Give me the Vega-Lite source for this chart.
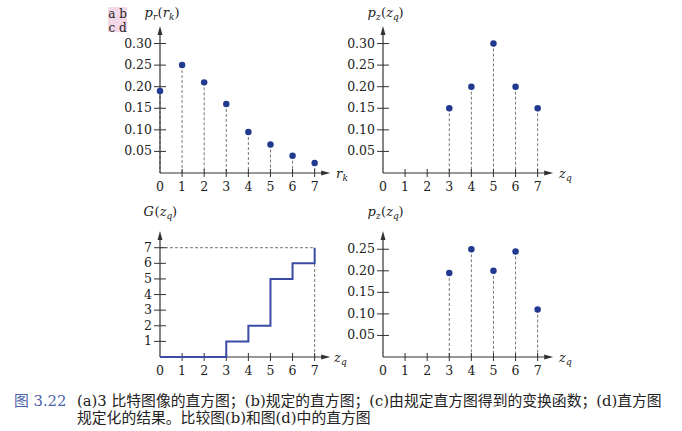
{
"$schema":"https://vega.github.io/schema/vega-lite/v6.json",
"background":"white",
"padding":{"left":14,"top":6,"right":0,"bottom":0},
"bounds":"flush",
"columns":2,
"spacing":{"row":31,"column":33},
"datasets":{
 "xt":[{"v":0},{"v":1},{"v":2},{"v":3},{"v":4},{"v":5},{"v":6},{"v":7}],
 "ya":[{"v":0.05},{"v":0.1},{"v":0.15},{"v":0.2},{"v":0.25},{"v":0.3}],
 "yc":[{"v":1},{"v":2},{"v":3},{"v":4},{"v":5},{"v":6},{"v":7}],
 "yd":[{"v":0.05},{"v":0.1},{"v":0.15},{"v":0.2},{"v":0.25}]
},
"config":{"view":{"stroke":null},
 "axis":{"disable":true},
 "text":{"font":"DejaVu Serif","fontSize":13,"fontStyle":"italic","align":"left","baseline":"middle","color":"#222"}},
"concat":[
{"width":190,"height":164,
 "data":{"values":[{"k":0,"p":0.19},{"k":1,"p":0.25},{"k":2,"p":0.21},{"k":3,"p":0.16},{"k":4,"p":0.095},{"k":5,"p":0.066},{"k":6,"p":0.04},{"k":7,"p":0.023}]},
 "layer":[
  {"mark":{"type":"rule","color":"#777","strokeDash":[3,2],"strokeWidth":1},
   "encoding":{"x":{"field":"k","type":"quantitative","scale":{"domain":[0,8.6],"nice":false},"axis":null},
     "y":{"field":"p","type":"quantitative","scale":{"domain":[0,0.38],"nice":false},"axis":null},
     "y2":{"datum":0}}},
  {"data":{"name":"xt"},"transform":[{"filter":"datum.v > 0"}],"mark":{"type":"point","shape":"M0,-1L0,1","filled":false,"size":64,"color":"#333","strokeWidth":1,"opacity":1},"encoding":{"x":{"field":"v","type":"quantitative"},"y":{"datum":0}}},
  {"data":{"name":"xt"},"mark":{"type":"text","dy":14,"align":"center","fontStyle":"normal","fontSize":12.5},"encoding":{"x":{"field":"v","type":"quantitative"},"y":{"datum":0},"text":{"field":"v","type":"quantitative","format":"d"}}},
  {"data":{"name":"ya"},"mark":{"type":"point","shape":"M-1,0L1,0","filled":false,"size":144,"color":"#333","strokeWidth":1,"opacity":1},"encoding":{"x":{"datum":0},"y":{"field":"v","type":"quantitative"}}},
  {"data":{"name":"ya"},"mark":{"type":"text","dx":-8,"align":"right","fontStyle":"normal","fontSize":12.5},"encoding":{"x":{"datum":0},"y":{"field":"v","type":"quantitative"},"text":{"field":"v","type":"quantitative","format":".2f"}}},
  {"data":{"values":[{}]},"mark":{"type":"rule","color":"#333","strokeWidth":1.2},"encoding":{"x":{"datum":0},"x2":{"datum":7.5},"y":{"datum":0}}},
  {"data":{"values":[{}]},"mark":{"type":"rule","color":"#333","strokeWidth":1.2},"encoding":{"x":{"datum":0},"y":{"datum":0},"y2":{"datum":0.33}}},
  {"data":{"values":[{}]},"mark":{"type":"point","shape":"M1,0L-1,-0.55L-1,0.55Z","filled":true,"size":81,"color":"#333","opacity":1},"encoding":{"x":{"datum":7.5},"y":{"datum":0}}},
  {"data":{"values":[{}]},"mark":{"type":"point","shape":"M0,-1L-0.55,1L0.55,1Z","filled":true,"size":81,"color":"#333","opacity":1},"encoding":{"x":{"datum":0},"y":{"datum":0.33}}},
  {"mark":{"type":"circle","size":42,"color":"#213a8f","opacity":1},"encoding":{"x":{"field":"k","type":"quantitative"},"y":{"field":"p","type":"quantitative"}}},
  {"data":{"values":[{}]},"encoding":{"x":{"datum":0},"y":{"datum":0.3715}},"layer":[
     {"mark":{"type":"text","text":"p","dx":-15.5}},
     {"mark":{"type":"text","text":"r","dx":-7,"dy":4,"fontSize":9}},
     {"mark":{"type":"text","text":"(","dx":-2.5,"fontStyle":"normal"}},
     {"mark":{"type":"text","text":"r","dx":2.8}},
     {"mark":{"type":"text","text":"k","dx":9,"dy":4,"fontSize":9}},
     {"mark":{"type":"text","text":")","dx":14.5,"fontStyle":"normal"}}]},
  {"data":{"values":[{}]},"encoding":{"x":{"datum":7.7},"y":{"datum":0}},"layer":[
     {"mark":{"type":"text","text":"r","dx":6,"dy":1}},
     {"mark":{"type":"text","text":"k","dx":12.5,"dy":5,"fontSize":9}}]},
  {"data":{"values":[{}]},"mark":{"type":"rect","color":"#f3d8e7"},"encoding":{"x":{"datum":-2.354},"x2":{"datum":-1.494},"y":{"datum":0.3843},"y2":{"datum":0.3264}}},
  {"data":{"values":[{}]},"encoding":{"x":{"datum":-1.92}},"layer":[
     {"mark":{"type":"text","text":"a b","fontStyle":"normal","fontSize":12,"align":"center"},"encoding":{"y":{"datum":0.368}}},
     {"mark":{"type":"text","text":"c d","fontStyle":"normal","fontSize":12,"align":"center"},"encoding":{"y":{"datum":0.3356}}}]}
 ]},
{"width":190,"height":164,
 "data":{"values":[{"k":3,"p":0.15},{"k":4,"p":0.2},{"k":5,"p":0.3},{"k":6,"p":0.2},{"k":7,"p":0.15}]},
 "layer":[
  {"mark":{"type":"rule","color":"#777","strokeDash":[3,2],"strokeWidth":1},
   "encoding":{"x":{"field":"k","type":"quantitative","scale":{"domain":[0,8.6],"nice":false},"axis":null},
     "y":{"field":"p","type":"quantitative","scale":{"domain":[0,0.38],"nice":false},"axis":null},
     "y2":{"datum":0}}},
  {"data":{"name":"xt"},"transform":[{"filter":"datum.v > 0"}],"mark":{"type":"point","shape":"M0,-1L0,1","filled":false,"size":64,"color":"#333","strokeWidth":1,"opacity":1},"encoding":{"x":{"field":"v","type":"quantitative"},"y":{"datum":0}}},
  {"data":{"name":"xt"},"mark":{"type":"text","dy":14,"align":"center","fontStyle":"normal","fontSize":12.5},"encoding":{"x":{"field":"v","type":"quantitative"},"y":{"datum":0},"text":{"field":"v","type":"quantitative","format":"d"}}},
  {"data":{"name":"ya"},"mark":{"type":"point","shape":"M-1,0L1,0","filled":false,"size":144,"color":"#333","strokeWidth":1,"opacity":1},"encoding":{"x":{"datum":0},"y":{"field":"v","type":"quantitative"}}},
  {"data":{"name":"ya"},"mark":{"type":"text","dx":-8,"align":"right","fontStyle":"normal","fontSize":12.5},"encoding":{"x":{"datum":0},"y":{"field":"v","type":"quantitative"},"text":{"field":"v","type":"quantitative","format":".2f"}}},
  {"data":{"values":[{}]},"mark":{"type":"rule","color":"#333","strokeWidth":1.2},"encoding":{"x":{"datum":0},"x2":{"datum":7.5},"y":{"datum":0}}},
  {"data":{"values":[{}]},"mark":{"type":"rule","color":"#333","strokeWidth":1.2},"encoding":{"x":{"datum":0},"y":{"datum":0},"y2":{"datum":0.33}}},
  {"data":{"values":[{}]},"mark":{"type":"point","shape":"M1,0L-1,-0.55L-1,0.55Z","filled":true,"size":81,"color":"#333","opacity":1},"encoding":{"x":{"datum":7.5},"y":{"datum":0}}},
  {"data":{"values":[{}]},"mark":{"type":"point","shape":"M0,-1L-0.55,1L0.55,1Z","filled":true,"size":81,"color":"#333","opacity":1},"encoding":{"x":{"datum":0},"y":{"datum":0.33}}},
  {"mark":{"type":"circle","size":42,"color":"#213a8f","opacity":1},"encoding":{"x":{"field":"k","type":"quantitative"},"y":{"field":"p","type":"quantitative"}}},
  {"data":{"values":[{}]},"encoding":{"x":{"datum":0},"y":{"datum":0.3715}},"layer":[
     {"mark":{"type":"text","text":"p","dx":-15.5}},
     {"mark":{"type":"text","text":"z","dx":-7,"dy":4,"fontSize":9}},
     {"mark":{"type":"text","text":"(","dx":-2,"fontStyle":"normal"}},
     {"mark":{"type":"text","text":"z","dx":3.2}},
     {"mark":{"type":"text","text":"q","dx":10,"dy":4,"fontSize":9}},
     {"mark":{"type":"text","text":")","dx":15.5,"fontStyle":"normal"}}]},
  {"data":{"values":[{}]},"encoding":{"x":{"datum":7.7},"y":{"datum":0}},"layer":[
     {"mark":{"type":"text","text":"z","dx":6,"dy":1}},
     {"mark":{"type":"text","text":"q","dx":13,"dy":5,"fontSize":9}}]}
 ]},
{"width":190,"height":153,
 "data":{"values":[{"z":0,"G":0},{"z":1,"G":0},{"z":2,"G":0},{"z":3,"G":1},{"z":4,"G":2},{"z":5,"G":5},{"z":6,"G":6},{"z":7,"G":7}]},
 "layer":[
  {"mark":{"type":"line","interpolate":"step-after","color":"#3a4ca5","strokeWidth":2,"opacity":0},
   "encoding":{"x":{"field":"z","type":"quantitative","scale":{"domain":[0,8.6],"nice":false},"axis":null},
     "y":{"field":"G","type":"quantitative","scale":{"domain":[0,9.8],"nice":false},"axis":null}}},
  {"data":{"values":[{}]},"mark":{"type":"rule","color":"#777","strokeDash":[3,2],"strokeWidth":1},"encoding":{"x":{"datum":0},"x2":{"datum":7},"y":{"datum":7}}},
  {"data":{"values":[{}]},"mark":{"type":"rule","color":"#777","strokeDash":[3,2],"strokeWidth":1},"encoding":{"x":{"datum":7},"y":{"datum":0},"y2":{"datum":7}}},
  {"data":{"name":"xt"},"transform":[{"filter":"datum.v > 0"}],"mark":{"type":"point","shape":"M0,-1L0,1","filled":false,"size":64,"color":"#333","strokeWidth":1,"opacity":1},"encoding":{"x":{"field":"v","type":"quantitative"},"y":{"datum":0}}},
  {"data":{"name":"xt"},"mark":{"type":"text","dy":14,"align":"center","fontStyle":"normal","fontSize":12.5},"encoding":{"x":{"field":"v","type":"quantitative"},"y":{"datum":0},"text":{"field":"v","type":"quantitative","format":"d"}}},
  {"data":{"name":"yc"},"mark":{"type":"point","shape":"M-1,0L1,0","filled":false,"size":144,"color":"#333","strokeWidth":1,"opacity":1},"encoding":{"x":{"datum":0},"y":{"field":"v","type":"quantitative"}}},
  {"data":{"name":"yc"},"mark":{"type":"text","dx":-8,"align":"right","fontStyle":"normal","fontSize":12.5},"encoding":{"x":{"datum":0},"y":{"field":"v","type":"quantitative"},"text":{"field":"v","type":"quantitative","format":"d"}}},
  {"data":{"values":[{}]},"mark":{"type":"rule","color":"#333","strokeWidth":1.2},"encoding":{"x":{"datum":0},"x2":{"datum":7.5},"y":{"datum":0}}},
  {"data":{"values":[{}]},"mark":{"type":"rule","color":"#333","strokeWidth":1.2},"encoding":{"x":{"datum":0},"y":{"datum":0},"y2":{"datum":7.78}}},
  {"data":{"values":[{}]},"mark":{"type":"point","shape":"M1,0L-1,-0.55L-1,0.55Z","filled":true,"size":81,"color":"#333","opacity":1},"encoding":{"x":{"datum":7.5},"y":{"datum":0}}},
  {"data":{"values":[{}]},"mark":{"type":"point","shape":"M0,-1L-0.55,1L0.55,1Z","filled":true,"size":81,"color":"#333","opacity":1},"encoding":{"x":{"datum":0},"y":{"datum":7.78}}},
  {"mark":{"type":"line","interpolate":"step-after","color":"#3a4ca5","strokeWidth":2},
   "encoding":{"x":{"field":"z","type":"quantitative"},"y":{"field":"G","type":"quantitative"}}},
  {"data":{"values":[{}]},"encoding":{"x":{"datum":0},"y":{"datum":9.29}},"layer":[
     {"mark":{"type":"text","text":"G","dx":-16.5}},
     {"mark":{"type":"text","text":"(","dx":-5.5,"fontStyle":"normal"}},
     {"mark":{"type":"text","text":"z","dx":-0.3}},
     {"mark":{"type":"text","text":"q","dx":6.5,"dy":4,"fontSize":9}},
     {"mark":{"type":"text","text":")","dx":12,"fontStyle":"normal"}}]},
  {"data":{"values":[{}]},"encoding":{"x":{"datum":7.7},"y":{"datum":0}},"layer":[
     {"mark":{"type":"text","text":"z","dx":4,"dy":1}},
     {"mark":{"type":"text","text":"q","dx":11,"dy":5,"fontSize":9}}]}
 ]},
{"width":190,"height":153,
 "data":{"values":[{"k":3,"p":0.195},{"k":4,"p":0.25},{"k":5,"p":0.2},{"k":6,"p":0.245},{"k":7,"p":0.11}]},
 "layer":[
  {"mark":{"type":"rule","color":"#777","strokeDash":[3,2],"strokeWidth":1},
   "encoding":{"x":{"field":"k","type":"quantitative","scale":{"domain":[0,8.6],"nice":false},"axis":null},
     "y":{"field":"p","type":"quantitative","scale":{"domain":[0,0.355],"nice":false},"axis":null},
     "y2":{"datum":0}}},
  {"data":{"name":"xt"},"transform":[{"filter":"datum.v > 0"}],"mark":{"type":"point","shape":"M0,-1L0,1","filled":false,"size":64,"color":"#333","strokeWidth":1,"opacity":1},"encoding":{"x":{"field":"v","type":"quantitative"},"y":{"datum":0}}},
  {"data":{"name":"xt"},"mark":{"type":"text","dy":14,"align":"center","fontStyle":"normal","fontSize":12.5},"encoding":{"x":{"field":"v","type":"quantitative"},"y":{"datum":0},"text":{"field":"v","type":"quantitative","format":"d"}}},
  {"data":{"name":"yd"},"mark":{"type":"point","shape":"M-1,0L1,0","filled":false,"size":144,"color":"#333","strokeWidth":1,"opacity":1},"encoding":{"x":{"datum":0},"y":{"field":"v","type":"quantitative"}}},
  {"data":{"name":"yd"},"mark":{"type":"text","dx":-8,"align":"right","fontStyle":"normal","fontSize":12.5},"encoding":{"x":{"datum":0},"y":{"field":"v","type":"quantitative"},"text":{"field":"v","type":"quantitative","format":".2f"}}},
  {"data":{"values":[{}]},"mark":{"type":"rule","color":"#333","strokeWidth":1.2},"encoding":{"x":{"datum":0},"x2":{"datum":7.5},"y":{"datum":0}}},
  {"data":{"values":[{}]},"mark":{"type":"rule","color":"#333","strokeWidth":1.2},"encoding":{"x":{"datum":0},"y":{"datum":0},"y2":{"datum":0.282}}},
  {"data":{"values":[{}]},"mark":{"type":"point","shape":"M1,0L-1,-0.55L-1,0.55Z","filled":true,"size":81,"color":"#333","opacity":1},"encoding":{"x":{"datum":7.5},"y":{"datum":0}}},
  {"data":{"values":[{}]},"mark":{"type":"point","shape":"M0,-1L-0.55,1L0.55,1Z","filled":true,"size":81,"color":"#333","opacity":1},"encoding":{"x":{"datum":0},"y":{"datum":0.282}}},
  {"mark":{"type":"circle","size":42,"color":"#213a8f","opacity":1},"encoding":{"x":{"field":"k","type":"quantitative"},"y":{"field":"p","type":"quantitative"}}},
  {"data":{"values":[{}]},"encoding":{"x":{"datum":0},"y":{"datum":0.3364}},"layer":[
     {"mark":{"type":"text","text":"p","dx":-15.5}},
     {"mark":{"type":"text","text":"z","dx":-7,"dy":4,"fontSize":9}},
     {"mark":{"type":"text","text":"(","dx":-2,"fontStyle":"normal"}},
     {"mark":{"type":"text","text":"z","dx":3.2}},
     {"mark":{"type":"text","text":"q","dx":10,"dy":4,"fontSize":9}},
     {"mark":{"type":"text","text":")","dx":15.5,"fontStyle":"normal"}}]},
  {"data":{"values":[{}]},"encoding":{"x":{"datum":7.7},"y":{"datum":0}},"layer":[
     {"mark":{"type":"text","text":"z","dx":6,"dy":1}},
     {"mark":{"type":"text","text":"q","dx":13,"dy":5,"fontSize":9}}]}
 ]},
{"width":63,"height":45,
 "data":{"values":[{"line":1,"col":"fig","t":"图 3.22"},{"line":1,"col":"body","t":"(a)3 比特图像的直方图；(b)规定的直方图；(c)由规定直方图得到的变换函数；(d)直方图"},{"line":2,"col":"body","t":"规定化的结果。比较图(b)和图(d)中的直方图"}]},
 "mark":{"type":"text","align":"left","baseline":"middle","dx":-146,"font":"DejaVu Serif, Noto Sans CJK SC","fontSize":14.8,"fontStyle":"normal"},
 "encoding":{
  "x":{"field":"col","type":"nominal","scale":{"type":"point","domain":["fig","body"],"padding":0},"axis":null},
  "y":{"field":"line","type":"ordinal","scale":{"type":"point","padding":0.8},"axis":null},
  "text":{"field":"t"},
  "color":{"field":"col","type":"nominal","scale":{"domain":["fig","body"],"range":["#4a62a8","#222222"]},"legend":null}}}
]
}
